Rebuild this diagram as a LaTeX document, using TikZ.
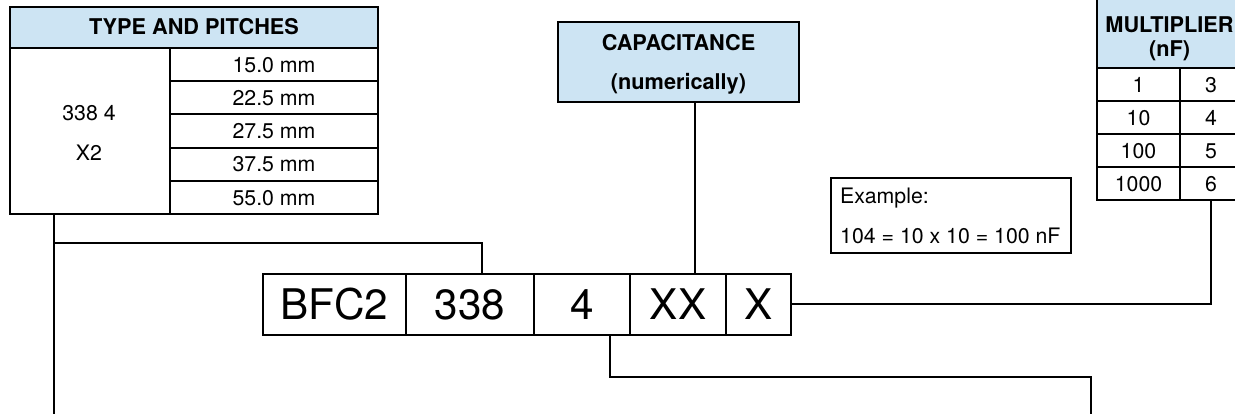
\documentclass[tikz,border=0pt]{standalone}
\usepackage{fontspec}
\setmainfont{TeX Gyre Heros}
\definecolor{hdrblue}{RGB}{205,228,243}
\newcommand\fsmall{\fontsize{21.3}{25}\selectfont}
\newcommand\fbold{\fontsize{21.7}{25}\selectfont\bfseries}
\newcommand\fbig{\fontsize{42.2}{48}\selectfont}
\begin{document}
\begin{tikzpicture}[x=1pt,y=-1pt,
  cell/.style={draw, line width=2pt, inner sep=0pt, font=\fsmall, text height=15.3pt, text depth=0pt},
  hdr/.style={cell, fill=hdrblue, font=\fbold},
  codebox/.style={draw, line width=2pt, inner sep=0pt, font=\fbig, text height=30.3pt, text depth=0pt, minimum height=61pt},
  codethick/.style={codebox, line width=2.8pt},
  txt/.style={inner sep=0pt, font=\fsmall, anchor=base},
  btxt/.style={txt, font=\fbold},
  conn/.style={line width=2pt},
]
\useasboundingbox (0,0) rectangle (1235,414);
\clip (0,0) rectangle (1235,414);

% Type and pitches table
\node[hdr, minimum width=368pt, minimum height=41pt] (typehead) at (194,27.2) {TYPE AND PITCHES};
\node[cell, minimum width=160pt, minimum height=166.6pt] (typeleft) at (90,131) {};
\foreach \i/\t in {1/15.0 mm, 2/22.5 mm, 3/27.5 mm, 4/37.5 mm, 5/55.0 mm}
  \node[cell, minimum width=208pt, minimum height=33.32pt] (pitch\i) at (274,{47.7+33.32*(\i-0.5)}) {\t};
\node[txt] (t3384) at (89,120.3) {338 4};
\node[txt] (tx2) at (89,160.9) {X2};

% Capacitance box
\node[hdr, minimum width=241pt, minimum height=80pt] (capbox) at (678.5,62) {};
\node[btxt] (cap1) at (678.5,50.6) {CAPACITANCE};
\node[btxt] (cap2) at (678.5,90) {(numerically)};

% Multiplier table
\node[hdr, minimum width=145pt, minimum height=70.3pt] (multhead) at (1169.5,33.15) {};
\node[btxt] (mult1) at (1169.5,32.6) {MULTIPLIER};
\node[btxt] (mult2) at (1169.5,57) {(nF)};
\foreach \i/\a/\b in {1/1/3, 2/10/4, 3/100/5, 4/1000/6} {
  \node[cell, minimum width=83pt, minimum height=33.05pt] (mv\i) at (1138.5,{68.3+33.05*(\i-0.5)}) {\a};
  \node[cell, minimum width=62pt, minimum height=33.05pt] (me\i) at (1211,{68.3+33.05*(\i-0.5)}) {\b};
}

% Example box
\node[draw, line width=2pt, inner sep=0pt, minimum width=240pt, minimum height=75pt] (exbox) at (951,215.5) {};
\node[txt, anchor=base west] (ex1) at (840,203.3) {Example:};
\node[txt, anchor=base west] (ex2) at (840,243.3) {104 = 10 x 10 = 100 nF};

% Code row
\node[codebox, minimum width=143pt] (nBFC) at (334.5,304.5) {BFC2};
\node[codethick, minimum width=128pt] (n338) at (470,304.5) {338};
\node[codethick, minimum width=96pt] (n4) at (582,304.5) {4};
\node[codethick, minimum width=96pt] (nXX) at (678,304.5) {XX};
\node[codethick, minimum width=65pt] (nX) at (758.5,304.5) {X};

% Connectors
\coordinate (typeend) at (54,420);
\coordinate (j1) at (54,243.3);
\draw[conn] (typeleft.south -| typeend) -- (typeend);
\draw[conn] (j1) -| ([xshift=12pt]n338.north);
\draw[conn] ([xshift=16.7pt]nXX.north) -- ([xshift=16.7pt]nXX.north |- capbox.south);
\draw[conn] (nX.east) -| (me4.south);
\coordinate (r4) at (1091,376.7);
\coordinate (r4end) at (1091,420);
\draw[conn] ([xshift=28pt]n4.south) |- (r4) -- (r4end);
\end{tikzpicture}
\end{document}
